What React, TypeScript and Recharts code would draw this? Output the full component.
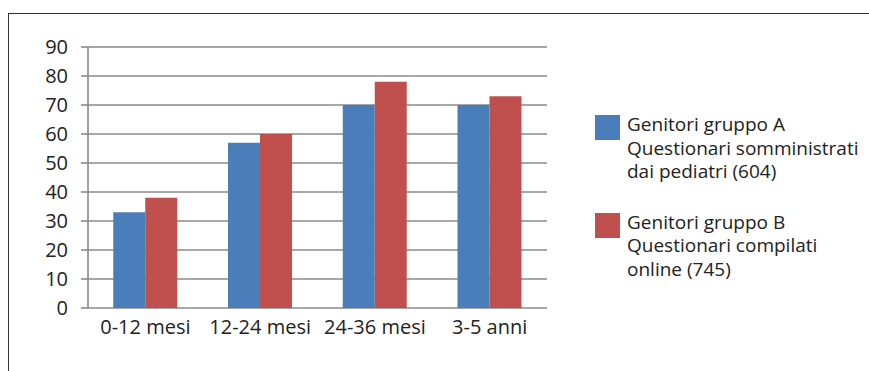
import React from "react";
import { Bar, BarChart, CartesianGrid, Legend, XAxis, YAxis } from "recharts";

const categories = ["0-12 mesi", "12-24 mesi", "24-36 mesi", "3-5 anni"];
const gruppoA = [33, 57, 70, 70];
const gruppoB = [38, 60, 78, 73];
const yTicks = [0, 10, 20, 30, 40, 50, 60, 70, 80, 90];
const edgeTicks = [0, 1, 2, 3, 4];

const nameA = "Genitori gruppo A\nQuestionari somministrati\ndai pediatri (604)";
const nameB = "Genitori gruppo B\nQuestionari compilati\nonline (745)";

const data = categories.map((label, i) => ({ label, a: gruppoA[i], b: gruppoB[i] }));

const FONT = "'Open Sans', sans-serif";
const GRID = "#8a8a8a";

function LegendBox({ payload }: any) {
  return (
    <div style={{ fontFamily: FONT, fontSize: 19, color: "#222", lineHeight: "23.5px" }}>
      {(payload || []).map((entry: any) => (
        <div key={entry.value} style={{ display: "flex", marginBottom: 27 }}>
          <div
            style={{
              width: 25,
              height: 25,
              background: entry.color,
              marginTop: 2,
              marginRight: 7,
              flexShrink: 0
            }}
          />
          <div>
            {String(entry.value)
              .split("\n")
              .map((line) => (
                <div key={line} style={{ whiteSpace: "nowrap" }}>
                  {line}
                </div>
              ))}
          </div>
        </div>
      ))}
    </div>
  );
}

export default function App() {
  return (
    <div
      style={{
        position: "fixed",
        left: 0,
        top: 0,
        width: 869,
        height: 371,
        background: "#fff",
        overflow: "hidden"
      }}
    >
      <div
        style={{
          position: "absolute",
          left: 8,
          top: 13,
          width: 880,
          height: 400,
          borderLeft: "1.5px solid #333",
          borderTop: "1.5px solid #333"
        }}
      />
      <div style={{ position: "absolute", left: 0, top: 0 }}>
        <BarChart
          width={869}
          height={371}
          data={data}
          margin={{ top: 47, right: 48, bottom: 33, left: 8 }}
          barCategoryGap="22%"
          barGap={0}
        >
          <CartesianGrid vertical={false} stroke={GRID} strokeWidth={1.6} />
          <XAxis
            xAxisId="edge"
            type="number"
            domain={[0, 4]}
            ticks={edgeTicks}
            tick={false}
            tickSize={7}
            height={0}
            axisLine={{ stroke: GRID, strokeWidth: 1.6 }}
            tickLine={{ stroke: GRID, strokeWidth: 1.6 }}
          />
          <XAxis
            xAxisId="cat"
            dataKey="label"
            height={30}
            axisLine={false}
            tickLine={false}
            tickSize={0}
            tickMargin={12}
            tick={{ fill: "#222", fontSize: 20, fontFamily: FONT }}
            interval={0}
          />
          <YAxis
            width={80}
            domain={[0, 90]}
            ticks={yTicks}
            interval={0}
            tickSize={7}
            tickMargin={13}
            axisLine={{ stroke: GRID, strokeWidth: 1.6 }}
            tickLine={{ stroke: GRID, strokeWidth: 1.6 }}
            tick={{ fill: "#222", fontSize: 20, fontFamily: FONT }}
          />
          <Legend
            layout="horizontal"
            verticalAlign="middle"
            align="right"
            wrapperStyle={{ left: 595, top: 113, width: 274 }}
            content={<LegendBox />}
          />
          <Bar xAxisId="cat" dataKey="a" name={nameA} fill="#4a7ebb" isAnimationActive={false} />
          <Bar xAxisId="cat" dataKey="b" name={nameB} fill="#c0504d" isAnimationActive={false} />
        </BarChart>
      </div>
    </div>
  );
}
